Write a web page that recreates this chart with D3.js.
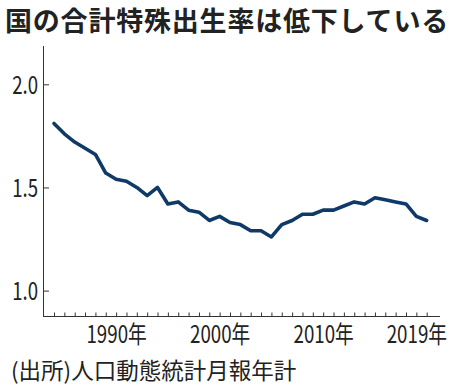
<!DOCTYPE html>
<html>
<head>
<meta charset="utf-8">
<script src="https://cdn.jsdelivr.net/npm/d3@7"></script>
<style>
  body { margin: 0; background: #fff; }
  svg { display: block; }
  text { font-family: "Noto Sans CJK JP", "Noto Sans", sans-serif; fill: #222; }
</style>
</head>
<body>
<div id="chart"></div>
<script>
// data: total fertility rate by year
const years = d3.range(1984, 2021);
const rates = [1.81, 1.76, 1.72, 1.69, 1.66, 1.57, 1.54, 1.53, 1.50, 1.46,
               1.50, 1.42, 1.43, 1.39, 1.38, 1.34, 1.36, 1.33, 1.32, 1.29,
               1.29, 1.26, 1.32, 1.34, 1.37, 1.37, 1.39, 1.39, 1.41, 1.43,
               1.42, 1.45, 1.44, 1.43, 1.42, 1.36, 1.34];
const yTicks = [1.0, 1.5, 2.0];
const xLabelYears = [1990, 2000, 2010, 2019];

const title = "国の合計特殊出生率は低下している";
const source = "(出所)人口動態統計月報年計";

const size = { width: 452, height: 388 };

const svg = d3.select("#chart")
  .append("svg")
  .attr("width", size.width)
  .attr("height", size.height);

//scales
const x = d3.scaleLinear()
  .domain([1984, 2020])
  .range([54, 426.7]);

const y = d3.scaleLinear()
  .domain([1.0, 2.0])
  .range([290.6, 84.3]);

const axisX = 43, axisY = 316, axisTop = 46, axisRight = 440;

//title
svg.append("text")
  .attr("x", 5)
  .attr("y", 31)
  .attr("font-size", 27)
  .attr("font-weight", 700)
  .attr("letter-spacing", 0.8)
  .attr("fill", "#1a1a1a")
  .text(title);

//y axis
const yAxis = svg.append("g")
  .attr("transform", "translate(" + axisX + ",0)")
  .call(d3.axisLeft(y).tickValues(yTicks).tickFormat(d3.format(".1f")).tickSizeOuter(0));

yAxis.select(".domain")
  .attr("d", "M0.5," + axisTop + "V" + axisY)
  .attr("stroke", "#333");
yAxis.selectAll(".tick line")
  .attr("x1", 0)
  .attr("x2", 6)
  .attr("stroke", "#333");
yAxis.selectAll(".tick text")
  .attr("font-size", 24.5)
  .attr("font-family", "'Noto Sans CJK JP', sans-serif")
  .attr("fill", "#222")
  .attr("transform", "scale(0.76,1)")
  .attr("x", -5 / 0.76)
  .attr("y", 9)
  .attr("dy", null);

//x axis
const xAxis = svg.append("g")
  .attr("transform", "translate(0," + axisY + ")")
  .call(d3.axisBottom(x).tickValues(years).tickSizeOuter(0)
    .tickFormat(function(d) { return xLabelYears.includes(d) ? d + "年" : ""; }));

xAxis.select(".domain")
  .attr("d", "M" + axisX + ",0.5H" + axisRight)
  .attr("stroke", "#333");
xAxis.selectAll(".tick line")
  .attr("y1", 0.5)
  .attr("y2", -3.5)
  .attr("stroke", "#333");
xAxis.selectAll(".tick text")
  .attr("font-size", 24)
  .attr("font-family", "'Noto Sans CJK JP', sans-serif")
  .attr("fill", "#222")
  .attr("transform", "scale(0.78,1)")
  .attr("y", 27.3)
  .attr("dy", null);

//line
const line = d3.line()
  .x(function(d, i) { return x(years[i]); })
  .y(function(d) { return y(d); });

svg.append("path")
  .datum(rates)
  .attr("d", line)
  .attr("fill", "none")
  .attr("stroke", "#0f3a68")
  .attr("stroke-width", 3.6)
  .attr("stroke-linejoin", "round")
  .attr("stroke-linecap", "round");

//source
svg.append("text")
  .attr("x", 11)
  .attr("y", 378.5)
  .attr("font-size", 22.5)
  .text(source);
</script>
</body>
</html>
